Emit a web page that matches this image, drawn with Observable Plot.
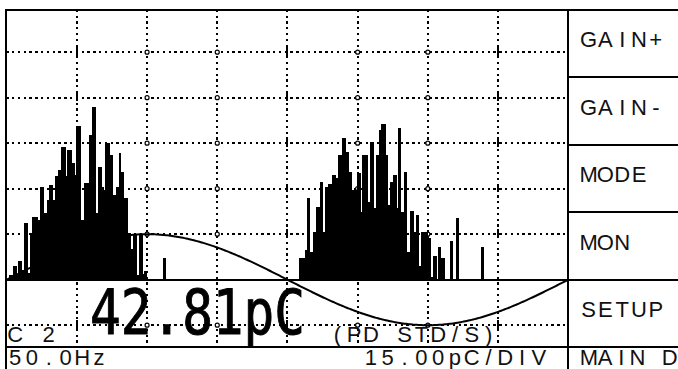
<!DOCTYPE html>
<html>
<head>
<meta charset="utf-8">
<script src="https://cdn.jsdelivr.net/npm/d3@7"></script>
<script src="https://cdn.jsdelivr.net/npm/@observablehq/plot@0.6"></script>
<style>
  html, body { margin: 0; padding: 0; background: #fff; }
  #screen { width: 678px; height: 369px; overflow: hidden; }
</style>
</head>
<body>
<div id="screen"></div>
<script>
// Phase-resolved partial discharge pattern: every bar is one phase window
// of the 50 Hz cycle (degrees) with the apparent charge seen there (pC).
const phaseLo = [
  1.9, 4.2, 6.4, 7.7, 9.6, 11.6, 13.5, 15.4, 16.7, 19.9,
  21.9, 23.8, 26.0, 27.6, 29.6, 31.5, 33.4, 35.4, 37.9, 39.2,
  41.8, 43.7, 45.0, 47.6, 50.1, 53.4, 55.3, 57.2, 59.1, 61.1,
  62.4, 63.6, 66.2, 68.1, 70.1, 72.0, 73.3, 75.2, 77.8, 79.7,
  81.0, 83.6, 84.9, 87.4, 88.1, 100.6,
  187.7, 191.6, 192.9, 194.1, 196.7, 198.6, 201.2, 202.5, 204.4, 206.4,
  208.6, 210.9, 212.8, 215.0, 217.3, 219.2, 221.5, 224.7, 226.9, 227.9,
  231.4, 233.4, 235.3, 237.2, 239.1, 240.4, 243.0, 244.3, 246.2, 248.1,
  250.1, 251.4, 252.6, 255.2, 256.5, 259.1, 261.0, 262.9, 264.2, 266.1,
  270.0, 271.9, 273.9, 276.8, 278.4, 284.5, 288.3, 304.7
];
const phaseHi = [
  4.2, 6.4, 7.7, 9.6, 11.6, 13.5, 15.4, 16.7, 19.9, 21.9,
  23.8, 26.0, 27.6, 29.6, 31.5, 33.4, 35.4, 37.9, 39.2, 41.8,
  43.7, 45.0, 47.6, 50.1, 53.4, 55.3, 57.2, 59.1, 61.1, 62.4,
  63.6, 66.2, 68.1, 70.1, 72.0, 73.3, 75.2, 77.8, 79.7, 81.0,
  83.6, 84.9, 87.4, 88.1, 90.0, 101.9,
  191.6, 192.9, 194.1, 196.7, 198.6, 201.2, 202.5, 204.4, 206.4, 208.6,
  210.9, 212.8, 215.0, 217.3, 219.2, 221.5, 224.7, 226.9, 227.9, 231.4,
  233.4, 235.3, 237.2, 239.1, 240.4, 243.0, 244.3, 246.2, 248.1, 250.1,
  251.4, 252.6, 255.2, 256.5, 259.1, 261.0, 262.9, 264.2, 266.1, 270.0,
  271.9, 273.2, 275.5, 278.4, 280.9, 286.1, 289.9, 306.0
];
const charge = [
  1.3, 4.3, 1.6, 5.9, 3.0, 18.5, 2.0, 15.2, 20.4, 19.5,
  30.3, 21.8, 26.0, 31.0, 26.0, 34.0, 35.9, 43.5, 34.0, 42.5,
  38.2, 34.3, 50.4, 19.5, 31.6, 47.5, 56.7, 21.8, 36.9, 30.3,
  29.3, 44.8, 40.9, 27.7, 30.3, 41.5, 35.3, 26.7, 15.2, 9.9,
  14.5, 1.3, 14.5, 1.6, 2.6, 6.9,
  6.9, 9.6, 26.7, 8.9, 15.5, 23.7, 32.0, 15.5, 30.3, 31.3,
  34.3, 33.3, 40.9, 46.5, 41.9, 35.3, 29.3, 34.9, 22.1, 40.9,
  25.4, 45.2, 23.4, 40.9, 49.1, 51.1, 40.9, 24.4, 32.0, 34.3,
  23.4, 49.8, 22.1, 35.3, 8.9, 22.4, 15.5, 21.1, 4.3, 15.5,
  13.5, 0.7, 7.6, 10.5, 6.9, 12.5, 20.1, 10.5
];

// Scale settings: 15.00 pC per division, 45 degrees of phase per division
const pcPerDiv = 15;
const phaseTicks = [45, 90, 135, 180, 225, 270, 315];
const ringPhases = [90, 135, 225, 270];
const barPhases = [45, 180, 315];
const chargeTicks = [-15, 15, 30, 45, 60, 75];

// Screen texts
const reading = "42.81pC";
const channel = "C 2";
const measureMode = "(PD STD/S)";
const lineFreq = "50.0Hz";
const sensitivity = "15.00pC/DIV";
const softKeys = ["GAIN+", "GAIN-", "MODE", "MON", "SETUP"];
const footerKey = "MAIN D";

const bars = phaseLo.map((lo, i) => ({lo, hi: phaseHi[i], q: charge[i]}));
// one-division reference sine of the supply voltage
const sine = d3.range(0, 361).map(p => ({p, v: pcPerDiv * Math.sin(p * Math.PI / 180)}));
// grid crossings: small rings on some verticals, short solid bars on the others
const rings = ringPhases.flatMap(p => chargeTicks.map(c => ({p, c})));
const crossBars = barPhases.flatMap(p => chargeTicks.map(c => ({p, c})));

const W = 678, H = 369;
const dotted = {stroke: "#000", strokeWidth: 2, strokeDasharray: "2.3,3.5", shapeRendering: "crispEdges"};

const chart = Plot.plot({
  width: W,
  height: H,
  marginLeft: 6.2,
  marginRight: 110.3,
  marginTop: 9.7,
  marginBottom: 21.8,
  x: {domain: [0, 360], axis: null},
  y: {domain: [-22.42, 88.85], axis: null},
  style: {background: "#fff", overflow: "hidden"},
  marks: [
    Plot.ruleY(chargeTicks, dotted),
    Plot.ruleX(phaseTicks, dotted),
    Plot.dot(rings, {x: "p", y: "c", r: 2, stroke: "#000", strokeWidth: 1.2, fill: "#fff"}),
    Plot.ruleX(crossBars, {x: "p", y1: d => d.c - 1.4, y2: d => d.c + 1.4, stroke: "#000", strokeWidth: 2, shapeRendering: "crispEdges"}),
    Plot.rectY(bars, {x1: "lo", x2: "hi", y: "q", fill: "#000", insetRight: -0.6, shapeRendering: "crispEdges"}),
    Plot.line(sine, {x: "p", y: "v", stroke: "#000", strokeWidth: 2}),
    Plot.ruleY([0], {stroke: "#000", strokeWidth: 2, shapeRendering: "crispEdges"})
  ]
});

// Instrument chrome: frame, soft-key column and status line
const sx = chart.scale("x"), sy = chart.scale("y");
const frameLeft = sx.range[0], frameRight = sx.range[1];
const frameTop = sy.range[1], frameBottom = sy.range[0];
const rowH = (frameBottom - frameTop) / softKeys.length;
const svg = d3.select(chart);
const chrome = svg.append("g").attr("stroke", "#000").attr("stroke-width", 2).attr("shape-rendering", "crispEdges");
const hline = (y, x1, x2) => chrome.append("line").attr("x1", x1).attr("x2", x2).attr("y1", y).attr("y2", y);
const vline = (x, y1, y2) => chrome.append("line").attr("x1", x).attr("x2", x).attr("y1", y1).attr("y2", y2);
hline(frameTop, frameLeft - 1, W);
vline(frameLeft, frameTop, H);
vline(frameRight, frameTop, H);
hline(frameBottom, frameLeft, W);
softKeys.slice(1).forEach((_, i) => hline(frameTop + rowH * (i + 1), frameRight, W));

// Character-cell text: every glyph is centred in a fixed-width cell
const txt = svg.append("g").attr("fill", "#111")
  .attr("font-family", "'Liberation Sans', Arial, sans-serif").attr("font-size", 22);
function cellText(str, x0, baseline, cell = 16.8) {
  txt.append("text")
    .attr("x", Array.from(str).map((c, i) => (x0 + cell * (i + 0.5)).toFixed(1)).join(" "))
    .attr("y", baseline)
    .attr("text-anchor", "middle")
    .text(str);
}
softKeys.forEach((k, i) => cellText(k, frameRight + 12.5, frameTop + rowH * (i + 0.5) + 4));
cellText(footerKey, frameRight + 13, H - 4, 16.2);
cellText(channel, frameLeft + 0.5, frameBottom - 5.5);
cellText(measureMode, 329, frameBottom - 5.5);
cellText(lineFreq, frameLeft + 0.5, H - 4);
cellText(sensitivity, 362.5, H - 4);

// Large charge readout, condensed horizontally like the instrument's big digits
svg.append("text")
  .attr("transform", "translate(90,334) scale(0.81,1)")
  .attr("text-anchor", "start")
  .attr("font-family", "'DejaVu Sans Mono', monospace").attr("font-size", 63)
  .attr("fill", "#000").attr("stroke", "#000").attr("stroke-width", 1)
  .text(reading);

document.getElementById("screen").appendChild(chart);
</script>
</body>
</html>
